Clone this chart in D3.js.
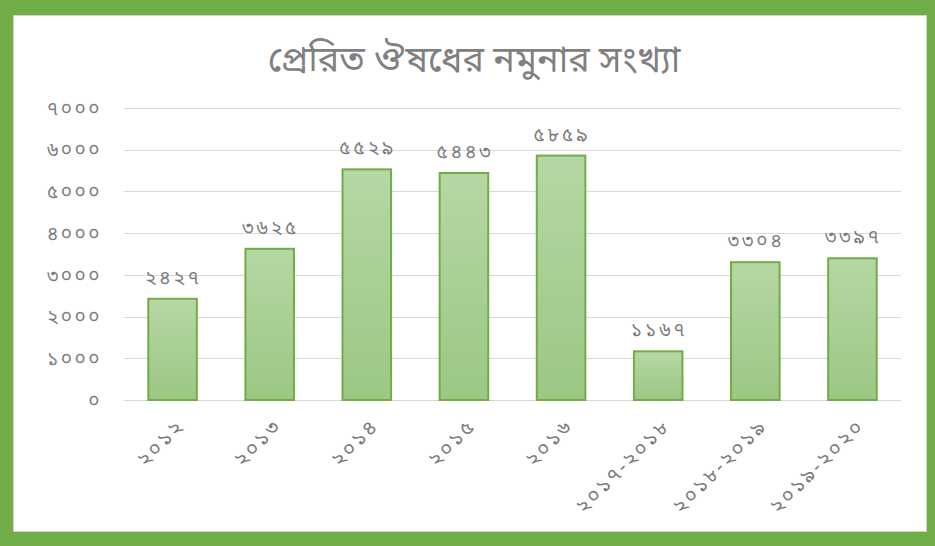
<!DOCTYPE html>
<html>
<head>
<meta charset="utf-8">
<script src="https://cdn.jsdelivr.net/npm/d3@7"></script>
<style>
  body { margin: 0; background: #70ad47; }
  svg { display: block; }
  text { font-family: "Noto Sans Bengali", "Noto Sans", sans-serif; fill: #7a7a7a; }
</style>
</head>
<body>
<svg id="chart" width="935" height="546"></svg>
<script>
// data
var categories = ['২০১২', '২০১৩', '২০১৪', '২০১৫', '২০১৬', '২০১৭-২০১৮', '২০১৮-২০১৯', '২০১৯-২০২০'];
var values = [2427, 3625, 5529, 5443, 5859, 1167, 3304, 3397];
var valueLabels = ['২৪২৭', '৩৬২৫', '৫৫২৯', '৫৪৪৩', '৫৮৫৯', '১১৬৭', '৩৩০৪', '৩৩৯৭'];
var yTicks = [0, 1000, 2000, 3000, 4000, 5000, 6000, 7000];
var yTickLabels = ['০', '১০০০', '২০০০', '৩০০০', '৪০০০', '৫০০০', '৬০০০', '৭০০০'];
var title = 'প্রেরিত ঔষধের নমুনার সংখ্যা';

var svg = d3.select('#chart');

// white panel inside the green frame
svg.append('rect')
    .attr('x', 13.5).attr('y', 15.5)
    .attr('width', 913).attr('height', 516)
    .attr('fill', '#fff')
    .attr('stroke', '#d0d0d0');

var defs = svg.append('defs');
var grad = defs.append('linearGradient')
    .attr('id', 'barGrad')
    .attr('x1', 0).attr('y1', 0).attr('x2', 0).attr('y2', 1);
grad.append('stop').attr('offset', '0%').attr('stop-color', '#b6d7a4');
grad.append('stop').attr('offset', '100%').attr('stop-color', '#9cc784');

var plotLeft = 124, plotRight = 901, plotTop = 108, plotBottom = 400;

var x = d3.scaleBand().domain(categories).range([plotLeft, plotRight]).paddingInner(0.5).paddingOuter(0.25);
var y = d3.scaleLinear().domain([0, 7000]).range([plotBottom, plotTop]);

// title
svg.append('text')
    .attr('x', 474).attr('y', 72)
    .attr('text-anchor', 'middle')
    .style('font-size', '36px')
    .style('fill', '#808080')
    .text(title);

// gridlines
svg.append('g').selectAll('line')
    .data(yTicks)
    .enter().append('line')
    .attr('x1', plotLeft).attr('x2', plotRight)
    .attr('y1', function (d) { return Math.round(y(d)) + 0.5; })
    .attr('y2', function (d) { return Math.round(y(d)) + 0.5; })
    .attr('stroke', '#d9d9d9')
    .attr('stroke-width', 1);

// y tick labels
svg.append('g').selectAll('text')
    .data(yTicks)
    .enter().append('text')
    .attr('x', 102)
    .attr('y', function (d) { return y(d); })
    .attr('dy', '0.35em')
    .attr('text-anchor', 'end')
    .style('font-size', '19px')
    .style('letter-spacing', '2.5px')
    .text(function (d, i) { return yTickLabels[i]; });

// bars
svg.append('g').selectAll('rect')
    .data(values)
    .enter().append('rect')
    .attr('x', function (d, i) { return x(categories[i]); })
    .attr('y', function (d) { return y(d); })
    .attr('width', x.bandwidth())
    .attr('height', function (d) { return plotBottom - y(d); })
    .attr('fill', 'url(#barGrad)')
    .attr('stroke', '#70ad47')
    .attr('stroke-width', 2);

// value labels
svg.append('g').selectAll('text')
    .data(values)
    .enter().append('text')
    .attr('x', function (d, i) { return x(categories[i]) + x.bandwidth() / 2 + 1; })
    .attr('y', function (d) { return y(d) - 15; })
    .attr('text-anchor', 'middle')
    .style('font-size', '19px')
    .style('letter-spacing', '3px')
    .text(function (d, i) { return valueLabels[i]; });

// x labels, rotated
svg.append('g').selectAll('text')
    .data(categories)
    .enter().append('text')
    .attr('transform', function (d) {
        return 'translate(' + (x(d) + x.bandwidth() / 2 + 8) + ',' + 422 + ') rotate(-45)';
    })
    .attr('text-anchor', 'end')
    .attr('dy', '0.35em')
    .style('font-size', '20px')
    .style('letter-spacing', '2.5px')
    .text(function (d) { return d; });
</script>
</body>
</html>
